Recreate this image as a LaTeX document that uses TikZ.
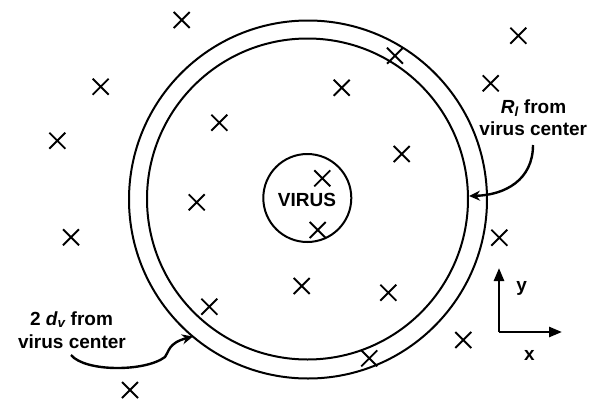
\documentclass[tikz,border=0pt]{standalone}
\usepackage{fontspec}
\setmainfont{Liberation Sans}
\usetikzlibrary{arrows.meta,shapes.misc}
\begin{document}
\begin{tikzpicture}[x=1pt,y=-1pt,
  ring/.style={circle,draw,line width=2pt,inner sep=0pt,outer sep=0pt},
  xmark/.style={cross out,draw,line width=1.9pt,minimum size=16pt,inner sep=0pt,outer sep=0pt},
  lbl/.style={font=\fontsize{19}{22}\selectfont\bfseries,anchor=base,inner sep=0pt},
  curvedarrow/.style={line width=2.4pt,-{Stealth[length=11pt,width=10pt]}},
  axisarrow/.style={line width=2.6pt,-{Triangle[length=13pt,width=10pt]}}
]
\useasboundingbox (0,0) rectangle (598,400);
% circles
\node[ring,minimum size=358pt] (outer) at (308,199.5) {};
\node[ring,minimum size=321pt] (inner) at (307.5,199) {};
\node[ring,minimum size=88pt] (virus) at (307.3,198) {};
\node[lbl] (virustext) at (307,206) {VIRUS};
% crosses
\foreach \n/\p in {1/{(181.7,20)},2/{(100.7,86.7)},3/{(57.3,140.7)},4/{(219.3,122.7)},
  5/{(196.7,202.3)},6/{(71,237.3)},7/{(518.3,35.7)},8/{(395,55.7)},9/{(341.7,87.7)},
  10/{(490.7,83.3)},11/{(401.7,154)},12/{(499.3,237.7)},13/{(322.3,178.3)},
  14/{(317.7,230)},15/{(301.7,286)},16/{(388.3,292.7)},17/{(209.3,306.7)},
  18/{(463.3,340)},19/{(369.3,358.3)},20/{(130,390)}}
  \node[xmark] (c\n) at \p {};
% R_l label
\node[lbl] (rla) at (533.5,113) {{\itshape R\textsubscript{l}} from};
\node[lbl] (rlb) at (533.3,135) {virus center};
\coordinate (rlstart) at (533,145);
\coordinate (rltip) at (469,196);
\draw[curvedarrow] (rlstart) .. controls (533,180) and (505,195) .. (rltip);
% 2 d_v label
\node[lbl] (dva) at (71.5,325) {2 {\itshape d\textsubscript{v}} from};
\node[lbl] (dvb) at (72,348) {virus center};
\coordinate (dvstart) at (71,355);
\coordinate (dvmid) at (165,357);
\coordinate (dvtip) at (193,336.5);
\draw[curvedarrow] (dvstart) .. controls (85,372) and (145,372) .. (dvmid)
  .. controls (169,352) and (168,343) .. (dvtip);
% axes
\coordinate (origin) at (499,332);
\coordinate (ytip) at (499,268);
\coordinate (xtip) at (562,332);
\draw[axisarrow] (origin) -- (ytip);
\draw[axisarrow] (origin) -- (xtip);
\node[lbl] (ylab) at (521.7,291) {y};
\node[lbl] (xlab) at (529.3,360) {x};
\end{tikzpicture}
\end{document}
